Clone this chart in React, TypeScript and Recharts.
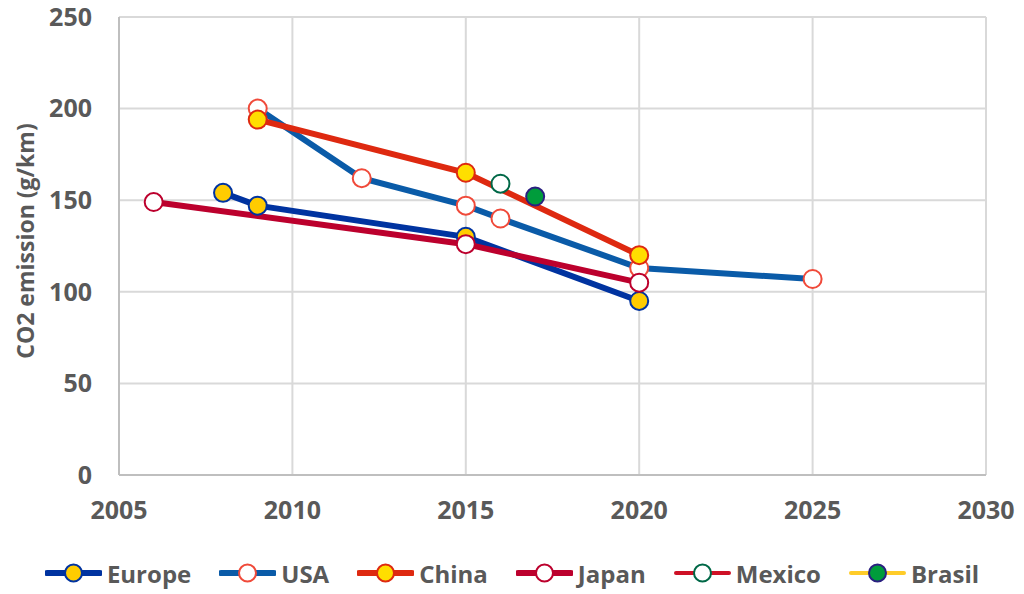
import { LineChart, Line, XAxis, YAxis, CartesianGrid, Legend } from "recharts";

const yearTicks = [2005, 2010, 2015, 2020, 2025, 2030];
const valueTicks = [0, 50, 100, 150, 200, 250];

const europeYears = [2008, 2009, 2015, 2020];
const europeValues = [154, 147, 130, 95];

const usaYears = [2009, 2012, 2015, 2016, 2020, 2025];
const usaValues = [200, 162, 147, 140, 113, 107];

const chinaYears = [2009, 2015, 2020];
const chinaValues = [194, 165, 120];

const japanYears = [2006, 2015, 2020];
const japanValues = [149, 126, 105];

const mexicoYears = [2016];
const mexicoValues = [159];

const brasilYears = [2017];
const brasilValues = [152];

const toRows = (years: number[], values: number[]) =>
  years.map((year, i) => ({ year, value: values[i] }));

const series = [
  { name: "Europe", rows: toRows(europeYears, europeValues), line: "#0033a0", width: 6, fill: "#ffcc00", stroke: "#0033a0" },
  { name: "USA", rows: toRows(usaYears, usaValues), line: "#0a5ba8", width: 6, fill: "#ffffff", stroke: "#f04a3a" },
  { name: "China", rows: toRows(chinaYears, chinaValues), line: "#de2910", width: 6, fill: "#ffde00", stroke: "#de2910" },
  { name: "Japan", rows: toRows(japanYears, japanValues), line: "#bc002d", width: 6, fill: "#ffffff", stroke: "#bc002d" },
  { name: "Mexico", rows: toRows(mexicoYears, mexicoValues), line: "#ce1126", width: 4, fill: "#ffffff", stroke: "#006847" },
  { name: "Brasil", rows: toRows(brasilYears, brasilValues), line: "#ffcc29", width: 4, fill: "#009c3b", stroke: "#2a2080" },
];

const FONT = "'Open Sans', sans-serif";
const TEXT = "#595959";

const LegendContent = () => (
  <div
    style={{
      display: "flex",
      justifyContent: "center",
      alignItems: "center",
      height: 36,
      gap: 28,
      fontFamily: FONT,
      fontWeight: 700,
      fontSize: 24,
      color: TEXT,
    }}
  >
    {series.map((s) => (
      <div key={s.name} style={{ display: "flex", alignItems: "center", gap: 5 }}>
        <svg width={57} height={24}>
          <line x1={2} y1={12} x2={55} y2={12} stroke={s.line} strokeWidth={s.width} strokeLinecap="round" />
          <circle cx={28.5} cy={12} r={8.5} fill={s.fill} stroke={s.stroke} strokeWidth={2} />
        </svg>
        <span>{s.name}</span>
      </div>
    ))}
  </div>
);

const YLabel = () => (
  <text
    x={25}
    y={241}
    transform="rotate(-90 25 241)"
    textAnchor="middle"
    dominantBaseline="central"
    fill={TEXT}
    fontFamily={FONT}
    fontWeight={700}
    fontSize={23}
  >
    CO2 emission (g/km)
  </text>
);

export default function App() {
  return (
    <div style={{ position: "absolute", left: 0, top: 0, background: "#fff" }}>
      <LineChart width={1024} height={594} margin={{ top: 17, right: 38, left: 0, bottom: 3 }}>
        <CartesianGrid stroke="#d9d9d9" strokeWidth={2} />
        <XAxis
          type="number"
          dataKey="year"
          domain={[2005, 2030]}
          ticks={yearTicks}
          allowDuplicatedCategory={false}
          height={80}
          stroke="#bfbfbf"
          strokeWidth={2}
          tickSize={0}
          tickMargin={26}
          tick={{ fill: TEXT, fontFamily: FONT, fontWeight: 700, fontSize: 25 }}
        />
        <YAxis
          type="number"
          domain={[0, 250]}
          ticks={valueTicks}
          width={119}
          stroke="#bfbfbf"
          strokeWidth={2}
          tickSize={0}
          tickMargin={27}
          tick={{ fill: TEXT, fontFamily: FONT, fontWeight: 700, fontSize: 25 }}
          label={<YLabel />}
        />
        <Legend
          verticalAlign="bottom"
          height={36}
          content={<LegendContent />}
          wrapperStyle={{ left: 0, width: 1024 }}
        />
        {series.map((s) => (
          <Line
            key={s.name}
            name={s.name}
            data={s.rows}
            dataKey="value"
            stroke={s.line}
            strokeWidth={s.width}
            dot={{ r: 9, fill: s.fill, stroke: s.stroke, strokeWidth: 2 }}
            activeDot={false}
            isAnimationActive={false}
          />
        ))}
      </LineChart>
    </div>
  );
}
